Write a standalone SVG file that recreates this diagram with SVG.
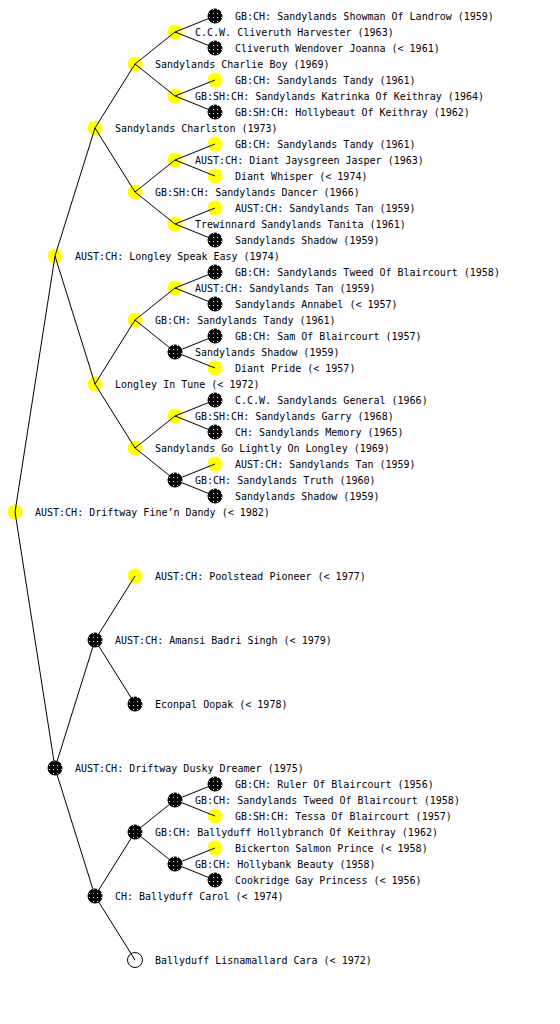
<svg xmlns="http://www.w3.org/2000/svg" width="560" height="1024" viewBox="0 0 560 1024">
<style>
text{font-family:"DejaVu Sans Mono","Liberation Mono",monospace;font-size:10px;fill:#000}
.y{fill:url(#py)}
.k{fill:url(#pk)}
.w{fill:#fff;stroke:#000;stroke-width:1}
#connectors line{stroke:#000;stroke-width:1}
</style>
<defs>
<pattern id="py" width="4" height="4" patternUnits="userSpaceOnUse"><rect width="4" height="4" fill="#ffff00"/><rect x="1" y="1" width="1" height="1" fill="#ffffa0"/></pattern>
<pattern id="pk" width="4" height="4" patternUnits="userSpaceOnUse"><rect width="4" height="4" fill="#000"/><rect x="1" y="1" width="1" height="1" fill="#fff"/></pattern>
</defs>
<rect width="560" height="1024" fill="#fff"/>
<g id="nodes">
<g id="n0"><circle class="y" cx="15" cy="512" r="7.5"/><text x="35" y="516">AUST:CH: Driftway Fine’n Dandy (&lt; 1982)</text></g>
<g id="n1"><circle class="y" cx="55" cy="256" r="7.5"/><text x="75" y="260">AUST:CH: Longley Speak Easy (1974)</text></g>
<g id="n2"><circle class="k" cx="55" cy="768" r="7.5"/><text x="75" y="772">AUST:CH: Driftway Dusky Dreamer (1975)</text></g>
<g id="n3"><circle class="y" cx="95" cy="128" r="7.5"/><text x="115" y="132">Sandylands Charlston (1973)</text></g>
<g id="n4"><circle class="y" cx="95" cy="384" r="7.5"/><text x="115" y="388">Longley In Tune (&lt; 1972)</text></g>
<g id="n5"><circle class="k" cx="95" cy="640" r="7.5"/><text x="115" y="644">AUST:CH: Amansi Badri Singh (&lt; 1979)</text></g>
<g id="n6"><circle class="k" cx="95" cy="896" r="7.5"/><text x="115" y="900">CH: Ballyduff Carol (&lt; 1974)</text></g>
<g id="n7"><circle class="y" cx="135" cy="64" r="7.5"/><text x="155" y="68">Sandylands Charlie Boy (1969)</text></g>
<g id="n8"><circle class="y" cx="135" cy="192" r="7.5"/><text x="155" y="196">GB:SH:CH: Sandylands Dancer (1966)</text></g>
<g id="n9"><circle class="y" cx="135" cy="320" r="7.5"/><text x="155" y="324">GB:CH: Sandylands Tandy (1961)</text></g>
<g id="n10"><circle class="y" cx="135" cy="448" r="7.5"/><text x="155" y="452">Sandylands Go Lightly On Longley (1969)</text></g>
<g id="n11"><circle class="y" cx="135" cy="576" r="7.5"/><text x="155" y="580">AUST:CH: Poolstead Pioneer (&lt; 1977)</text></g>
<g id="n12"><circle class="k" cx="135" cy="704" r="7.5"/><text x="155" y="708">Econpal Oopak (&lt; 1978)</text></g>
<g id="n13"><circle class="k" cx="135" cy="832" r="7.5"/><text x="155" y="836">GB:CH: Ballyduff Hollybranch Of Keithray (1962)</text></g>
<g id="n14"><circle class="w" cx="135" cy="960" r="7.5"/><text x="155" y="964">Ballyduff Lisnamallard Cara (&lt; 1972)</text></g>
<g id="n15"><circle class="y" cx="175" cy="32" r="7.5"/><text x="195" y="36">C.C.W. Cliveruth Harvester (1963)</text></g>
<g id="n16"><circle class="y" cx="175" cy="96" r="7.5"/><text x="195" y="100">GB:SH:CH: Sandylands Katrinka Of Keithray (1964)</text></g>
<g id="n17"><circle class="y" cx="175" cy="160" r="7.5"/><text x="195" y="164">AUST:CH: Diant Jaysgreen Jasper (1963)</text></g>
<g id="n18"><circle class="y" cx="175" cy="224" r="7.5"/><text x="195" y="228">Trewinnard Sandylands Tanita (1961)</text></g>
<g id="n19"><circle class="y" cx="175" cy="288" r="7.5"/><text x="195" y="292">AUST:CH: Sandylands Tan (1959)</text></g>
<g id="n20"><circle class="k" cx="175" cy="352" r="7.5"/><text x="195" y="356">Sandylands Shadow (1959)</text></g>
<g id="n21"><circle class="y" cx="175" cy="416" r="7.5"/><text x="195" y="420">GB:SH:CH: Sandylands Garry (1968)</text></g>
<g id="n22"><circle class="k" cx="175" cy="480" r="7.5"/><text x="195" y="484">GB:CH: Sandylands Truth (1960)</text></g>
<g id="n23"><circle class="k" cx="175" cy="800" r="7.5"/><text x="195" y="804">GB:CH: Sandylands Tweed Of Blaircourt (1958)</text></g>
<g id="n24"><circle class="k" cx="175" cy="864" r="7.5"/><text x="195" y="868">GB:CH: Hollybank Beauty (1958)</text></g>
<g id="n25"><circle class="k" cx="215" cy="16" r="7.5"/><text x="235" y="20">GB:CH: Sandylands Showman Of Landrow (1959)</text></g>
<g id="n26"><circle class="k" cx="215" cy="48" r="7.5"/><text x="235" y="52">Cliveruth Wendover Joanna (&lt; 1961)</text></g>
<g id="n27"><circle class="y" cx="215" cy="80" r="7.5"/><text x="235" y="84">GB:CH: Sandylands Tandy (1961)</text></g>
<g id="n28"><circle class="k" cx="215" cy="112" r="7.5"/><text x="235" y="116">GB:SH:CH: Hollybeaut Of Keithray (1962)</text></g>
<g id="n29"><circle class="y" cx="215" cy="144" r="7.5"/><text x="235" y="148">GB:CH: Sandylands Tandy (1961)</text></g>
<g id="n30"><circle class="y" cx="215" cy="176" r="7.5"/><text x="235" y="180">Diant Whisper (&lt; 1974)</text></g>
<g id="n31"><circle class="y" cx="215" cy="208" r="7.5"/><text x="235" y="212">AUST:CH: Sandylands Tan (1959)</text></g>
<g id="n32"><circle class="k" cx="215" cy="240" r="7.5"/><text x="235" y="244">Sandylands Shadow (1959)</text></g>
<g id="n33"><circle class="k" cx="215" cy="272" r="7.5"/><text x="235" y="276">GB:CH: Sandylands Tweed Of Blaircourt (1958)</text></g>
<g id="n34"><circle class="k" cx="215" cy="304" r="7.5"/><text x="235" y="308">Sandylands Annabel (&lt; 1957)</text></g>
<g id="n35"><circle class="k" cx="215" cy="336" r="7.5"/><text x="235" y="340">GB:CH: Sam Of Blaircourt (1957)</text></g>
<g id="n36"><circle class="y" cx="215" cy="368" r="7.5"/><text x="235" y="372">Diant Pride (&lt; 1957)</text></g>
<g id="n37"><circle class="k" cx="215" cy="400" r="7.5"/><text x="235" y="404">C.C.W. Sandylands General (1966)</text></g>
<g id="n38"><circle class="k" cx="215" cy="432" r="7.5"/><text x="235" y="436">CH: Sandylands Memory (1965)</text></g>
<g id="n39"><circle class="y" cx="215" cy="464" r="7.5"/><text x="235" y="468">AUST:CH: Sandylands Tan (1959)</text></g>
<g id="n40"><circle class="k" cx="215" cy="496" r="7.5"/><text x="235" y="500">Sandylands Shadow (1959)</text></g>
<g id="n41"><circle class="k" cx="215" cy="784" r="7.5"/><text x="235" y="788">GB:CH: Ruler Of Blaircourt (1956)</text></g>
<g id="n42"><circle class="y" cx="215" cy="816" r="7.5"/><text x="235" y="820">GB:SH:CH: Tessa Of Blaircourt (1957)</text></g>
<g id="n43"><circle class="y" cx="215" cy="848" r="7.5"/><text x="235" y="852">Bickerton Salmon Prince (&lt; 1958)</text></g>
<g id="n44"><circle class="k" cx="215" cy="880" r="7.5"/><text x="235" y="884">Cookridge Gay Princess (&lt; 1956)</text></g>
</g>
<g id="connectors">
<line x1="15" y1="512" x2="55" y2="256"/><line x1="15" y1="512" x2="55" y2="768"/>
<line x1="55" y1="256" x2="95" y2="128"/><line x1="55" y1="256" x2="95" y2="384"/>
<line x1="55" y1="768" x2="95" y2="640"/><line x1="55" y1="768" x2="95" y2="896"/>
<line x1="95" y1="128" x2="135" y2="64"/><line x1="95" y1="128" x2="135" y2="192"/>
<line x1="95" y1="384" x2="135" y2="320"/><line x1="95" y1="384" x2="135" y2="448"/>
<line x1="95" y1="640" x2="135" y2="576"/><line x1="95" y1="640" x2="135" y2="704"/>
<line x1="95" y1="896" x2="135" y2="832"/><line x1="95" y1="896" x2="135" y2="960"/>
<line x1="135" y1="64" x2="175" y2="32"/><line x1="135" y1="64" x2="175" y2="96"/>
<line x1="135" y1="192" x2="175" y2="160"/><line x1="135" y1="192" x2="175" y2="224"/>
<line x1="135" y1="320" x2="175" y2="288"/><line x1="135" y1="320" x2="175" y2="352"/>
<line x1="135" y1="448" x2="175" y2="416"/><line x1="135" y1="448" x2="175" y2="480"/>
<line x1="135" y1="832" x2="175" y2="800"/><line x1="135" y1="832" x2="175" y2="864"/>
<line x1="175" y1="32" x2="215" y2="16"/><line x1="175" y1="32" x2="215" y2="48"/>
<line x1="175" y1="96" x2="215" y2="80"/><line x1="175" y1="96" x2="215" y2="112"/>
<line x1="175" y1="160" x2="215" y2="144"/><line x1="175" y1="160" x2="215" y2="176"/>
<line x1="175" y1="224" x2="215" y2="208"/><line x1="175" y1="224" x2="215" y2="240"/>
<line x1="175" y1="288" x2="215" y2="272"/><line x1="175" y1="288" x2="215" y2="304"/>
<line x1="175" y1="352" x2="215" y2="336"/><line x1="175" y1="352" x2="215" y2="368"/>
<line x1="175" y1="416" x2="215" y2="400"/><line x1="175" y1="416" x2="215" y2="432"/>
<line x1="175" y1="480" x2="215" y2="464"/><line x1="175" y1="480" x2="215" y2="496"/>
<line x1="175" y1="800" x2="215" y2="784"/><line x1="175" y1="800" x2="215" y2="816"/>
<line x1="175" y1="864" x2="215" y2="848"/><line x1="175" y1="864" x2="215" y2="880"/>
</g>
</svg>
